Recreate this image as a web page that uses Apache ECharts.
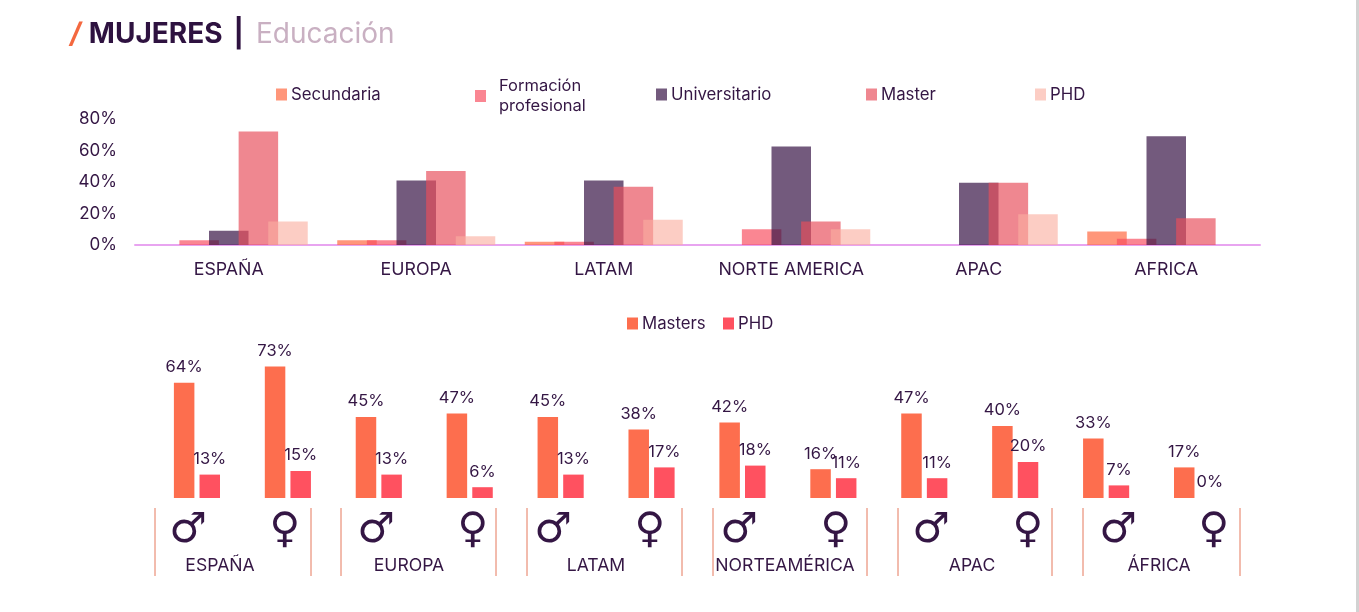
<!DOCTYPE html>
<html>
<head>
<meta charset="utf-8">
<style>html,body{margin:0;padding:0;background:#fff}#c{width:1359px;height:612px}</style>
<script src="https://cdn.jsdelivr.net/npm/echarts@6/dist/echarts.min.js"></script>
</head>
<body>
<div id="c"></div>
<script>
const regionsTop = ['ESPAÑA','EUROPA','LATAM','NORTE AMERICA','APAC','AFRICA'];
const secundaria = [0,3,2,0,0,8.5];
const formacion = [3,3,2,10,0,4];
const universitario = [9,41,41,62.5,39.5,69];
const master = [72,47,37,15,39.5,17];
const phdTop = [15,5.5,16,10,19.5,0];
const yTicks = [0,20,40,60,80];

const genders = ['♂','♀','♂','♀','♂','♀','♂','♀','♂','♀','♂','♀'];
const mastersGender = [64,73,45,47,45,38,42,16,47,40,33,17];
const phdGender = [13,15,13,6,13,17,18,11,11,20,7,0];
const regionsBottom = ['ESPAÑA','EUROPA','LATAM','NORTEAMÉRICA','APAC','ÁFRICA'];

const FONT = 'Inter, "Noto Sans", sans-serif';
const INK = '#341644';

const chart = echarts.init(document.getElementById('c'), null, {renderer:'canvas'});

function topBar(name, data, color){
  return {name, type:'bar', data, barWidth:39.5, barGap:'-25%', xAxisIndex:0, yAxisIndex:0,
    itemStyle:{color}, silent:true};
}
function legendAt(name, left, top, extra){
  return Object.assign({data:[name], left, top, padding:0, icon:'rect', itemWidth:11, itemHeight:12, itemGap:4,
    selectedMode:false, textStyle:{fontFamily:FONT, fontSize:16.8, color:INK, padding:[0,0,0,-1]}}, extra||{});
}

const symbolX = [188,285,376,473,553,650,739,836,931,1028,1118,1214];
const sepX = [155,311,341,496,527,682,713,867,898,1052,1083,1240];
const regionX = [220,409,596,785,972,1159];
const graphics = [];
genders.forEach((g,i)=>graphics.push({type:'text', x:symbolX[i], y:531,
  style:{text:g, fontFamily:'"DejaVu Sans"', fontSize:42, fill:INK, align:'center', verticalAlign:'middle'}}));
sepX.forEach(x=>graphics.push({type:'line', shape:{x1:x,y1:508,x2:x,y2:576}, style:{stroke:'#E5785C', lineWidth:1}}));
regionsBottom.forEach((r,i)=>graphics.push({type:'text', x:regionX[i], y:566,
  style:{text:r, fontFamily:FONT, fontSize:17.6, fill:INK, align:'center', verticalAlign:'middle'}}));
graphics.push({type:'rect', shape:{x:1356,y:0,width:3,height:612}, style:{fill:'#D2D2D2'}});

chart.setOption({
  animation:false,
  backgroundColor:'#fff',
  title:{
    left:65, top:16,
    text:'{s|/} {m|MUJERES} {b||} {e|Educación}',
    textStyle:{rich:{
      s:{fontFamily:FONT, fontSize:28, fontWeight:700, fontStyle:'italic', color:'#F4683F'},
      m:{fontFamily:FONT, fontSize:28, fontWeight:700, color:'#2E1240', padding:[0,0,0,3]},
      b:{fontFamily:FONT, fontSize:28, fontWeight:700, color:'#2E1240', padding:[0,0,0,6]},
      e:{fontFamily:FONT, fontSize:28, fontWeight:400, color:'#C9B0C2', padding:[0,0,0,7]}
    }}
  },
  legend:[
    legendAt('Secundaria',276,86),
    legendAt('Formación\nprofesional',475,76,{textStyle:{fontFamily:FONT,fontSize:16.5,color:INK,lineHeight:20,padding:[0,0,0,8]}}),
    legendAt('Universitario',656,86),
    legendAt('Master',866,86),
    legendAt('PHD',1035,86),
    legendAt('Masters',627,315),
    legendAt('PHD ',723,315)
  ],
  grid:[
    {left:135,width:1125,top:119,height:126},
    {left:151.5,width:1091,top:354,height:144}
  ],
  xAxis:[
    {type:'category',gridIndex:0,data:regionsTop,axisTick:{show:false},
     axisLine:{lineStyle:{color:'#E8A4F0',width:2}},
     axisLabel:{fontFamily:FONT,fontSize:17.8,color:INK,margin:16,interval:0}},
    {type:'category',gridIndex:1,data:genders,axisTick:{show:false},axisLine:{show:false},axisLabel:{show:false}}
  ],
  yAxis:[
    {type:'value',gridIndex:0,min:0,max:80,interval:20,splitLine:{show:false},axisLine:{show:false},axisTick:{show:false},
     axisLabel:{fontFamily:FONT,fontSize:17,color:INK,margin:18,formatter:v=>yTicks.includes(v)?v+'%':''}},
    {type:'value',gridIndex:1,min:0,max:80,show:false}
  ],
  series:[
    topBar('Secundaria',secundaria,'rgba(255,109,70,0.72)'),
    topBar('Formación\nprofesional',formacion,'rgba(248,77,94,0.68)'),
    topBar('Universitario',universitario,'rgba(55,20,70,0.70)'),
    topBar('Master',master,'rgba(232,78,92,0.68)'),
    topBar('PHD',phdTop,'rgba(250,175,160,0.62)'),
    {name:'Masters',type:'bar',xAxisIndex:1,yAxisIndex:1,data:mastersGender,barWidth:20.5,barGap:'25%',
     itemStyle:{color:'#FD6E4E'},silent:true,
     label:{show:true,position:'top',distance:7,formatter:'{c}%',fontFamily:FONT,fontSize:16.5,color:INK}},
    {name:'PHD ',type:'bar',xAxisIndex:1,yAxisIndex:1,data:phdGender,barWidth:20.5,barGap:'25%',
     itemStyle:{color:'#FF5160'},silent:true,
     label:{show:true,position:'top',distance:7,formatter:'{c}%',fontFamily:FONT,fontSize:16.5,color:INK}}
  ],
  graphic:graphics
});
</script>
</body>
</html>
